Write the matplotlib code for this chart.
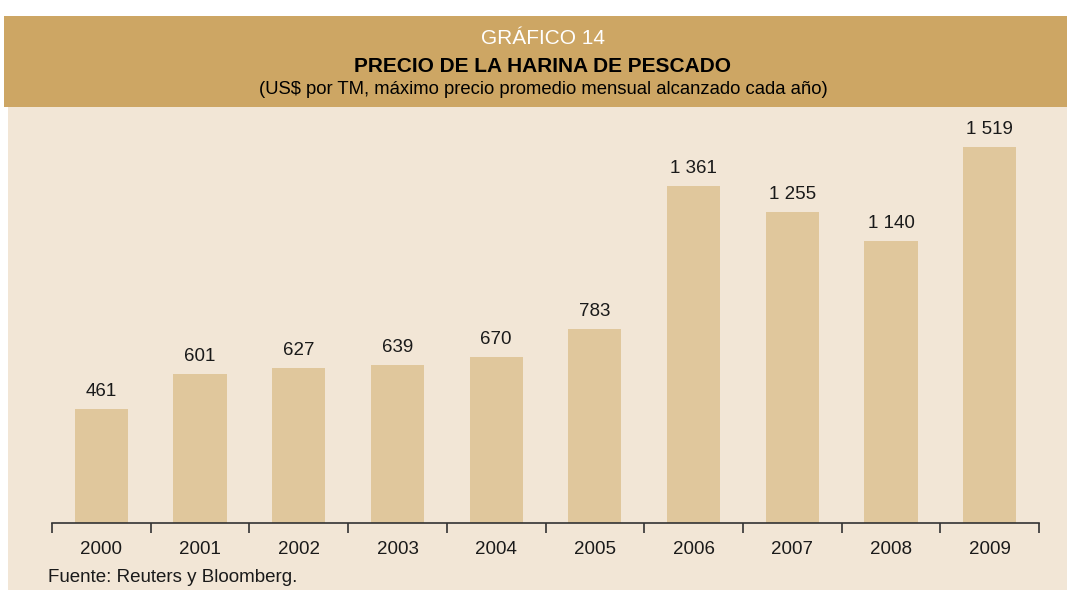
"""
    Precio de la harina de pescado, 2000-2009
"""
import matplotlib
matplotlib.use("Agg")
import numpy as np
from matplotlib import pyplot as plt
from matplotlib.patches import Rectangle

years = ["2000", "2001", "2002", "2003", "2004", "2005", "2006", "2007", "2008", "2009"]
prices = [461, 601, 627, 639, 670, 783, 1361, 1255, 1140, 1519]
value_labels = ["461", "601", "627", "639", "670", "783", "1 361", "1 255", "1 140", "1 519"]

HEADER = "#CDA664"
BACKGROUND = "#F2E6D6"
BAR = "#E0C79C"
W, H = 1067, 590

plt.rcParams['font.family'] = ['Liberation Sans', 'DejaVu Sans']

fig = plt.figure(figsize=(W / 100, H / 100), dpi=100)
fig.patch.set_facecolor("white")

# background boxes (in pixel coords turned into figure fractions)
fig.patches.append(Rectangle((8 / W, 0), (W - 8) / W, (H - 107) / H,
                             transform=fig.transFigure, facecolor=BACKGROUND,
                             edgecolor="none", zorder=-2))
fig.patches.append(Rectangle((4 / W, (H - 107) / H), (W - 4) / W, 91 / H,
                             transform=fig.transFigure, facecolor=HEADER,
                             edgecolor="none", zorder=-2))

fig.text(543 / W, 1 - 39 / H, "GRÁFICO 14", ha="center", va="center",
         color="white", fontsize=15)
fig.text(543 / W, 1 - 67 / H, "PRECIO DE LA HARINA DE PESCADO", ha="center",
         va="center", color="black", fontsize=15, fontweight="bold")
fig.text(543 / W, 1 - 89 / H,
         "(US$ por TM, máximo precio promedio mensual alcanzado cada año)",
         ha="center", va="center", color="black", fontsize=13.3)

# axes: left 52, right 1039, bottom 523, top 110 (pixels)
ax = fig.add_axes([52 / W, 1 - 523 / H, (1039 - 52) / W, (523 - 110) / H])
ax.set_facecolor("none")

x = np.arange(len(years))
ax.bar(x, prices, width=0.54, color=BAR, zorder=2)
for xi, p, lab in zip(x, prices, value_labels):
    ax.annotate(lab, (xi, p), xytext=(0, 6.5), textcoords="offset points",
                ha="center", va="bottom", fontsize=13.5, color="#1a1a1a")

ax.set_xlim(-0.5, len(years) - 0.5)
ax.set_ylim(0, 413 / (376 / 1519))
ax.set_yticks([])
for side in ["left", "right", "top"]:
    ax.spines[side].set_visible(False)
ax.spines["bottom"].set_color("#333333")
ax.spines["bottom"].set_linewidth(1.2)

ax.set_xticks(np.arange(len(years) + 1) - 0.5)
ax.set_xticklabels([])
ax.tick_params(axis="x", which="major", length=7, width=1.2, color="#333333")
ax.set_xticks(x, minor=True)
ax.set_xticklabels(years, minor=True)
ax.tick_params(axis="x", which="minor", length=0, pad=13, labelsize=13.5,
               labelcolor="#1a1a1a")

fig.text(48 / W, 1 - 577 / H, "Fuente: Reuters y Bloomberg.", ha="left",
         va="center", fontsize=13.5, color="#1a1a1a")

plt.savefig("out.png", dpi=100)
plt.close()
